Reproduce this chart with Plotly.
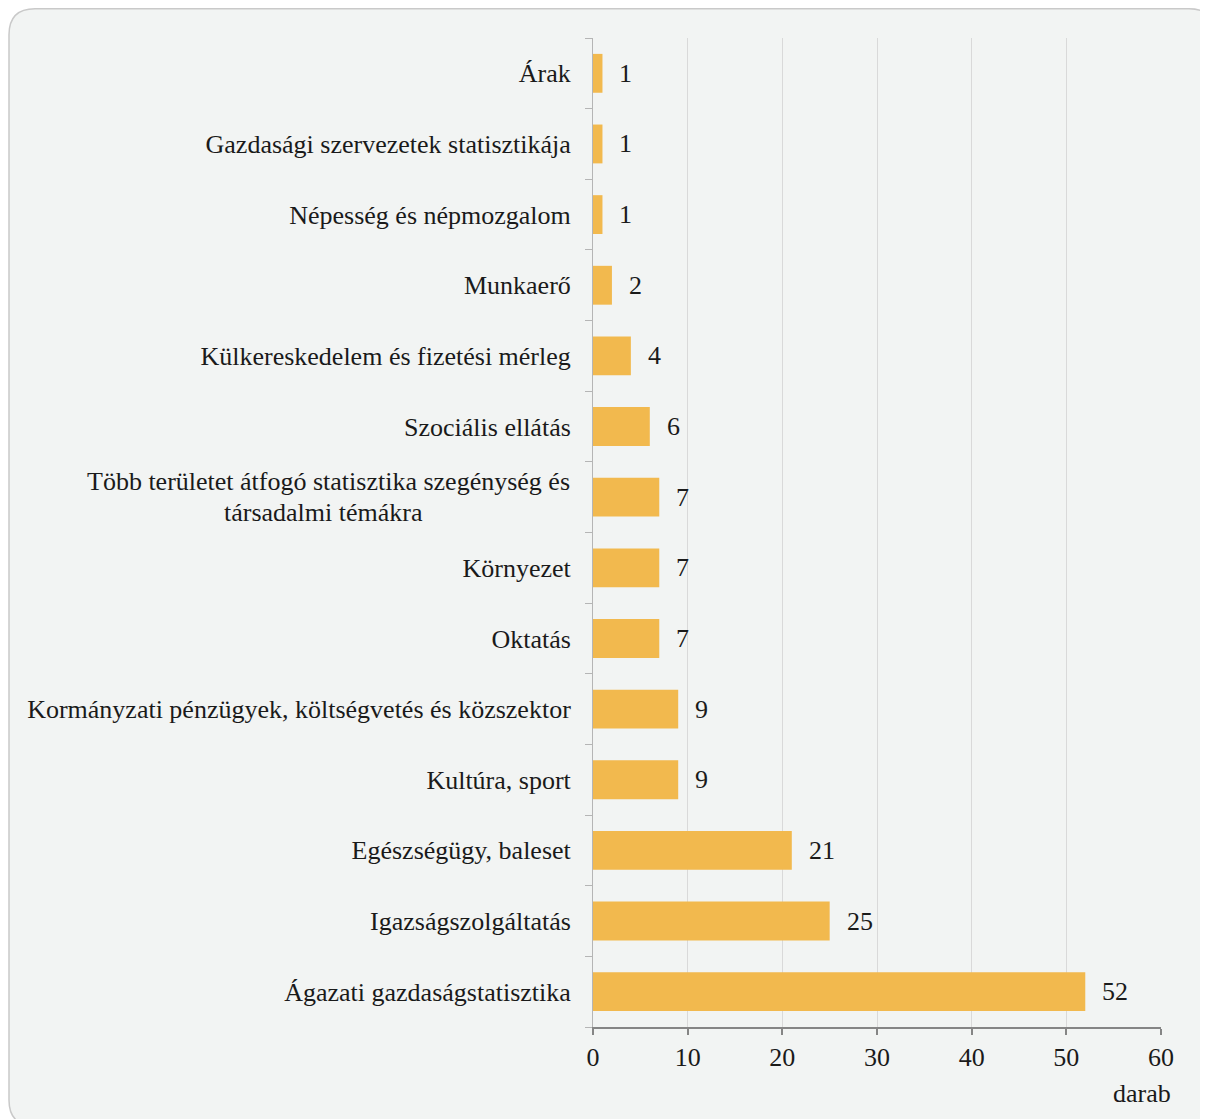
import plotly.graph_objects as go

categories = [
    "Árak",
    "Gazdasági szervezetek statisztikája",
    "Népesség és népmozgalom",
    "Munkaerő",
    "Külkereskedelem és fizetési mérleg",
    "Szociális ellátás",
    "Több területet átfogó statisztika szegénység és<br>társadalmi témákra",
    "Környezet",
    "Oktatás",
    "Kormányzati pénzügyek, költségvetés és közszektor",
    "Kultúra, sport",
    "Egészségügy, baleset",
    "Igazságszolgáltatás",
    "Ágazati gazdaságstatisztika",
]
values = [1, 1, 1, 2, 4, 6, 7, 7, 7, 9, 9, 21, 25, 52]
x_ticks = [0, 10, 20, 30, 40, 50, 60]
unit_label = "darab"

FONT = "Liberation Serif"
FS = 26
BAR = "#F2B94E"
TXT = "#1a1a1a"

W, H = 1208, 1119
L, R, T, B = 585, 55, 30, 100
pw, ph = W - L - R, H - T - B

fig = go.Figure()
fig.add_trace(go.Bar(
    x=values, y=categories, orientation="h",
    marker=dict(color=BAR, line=dict(width=0)),
    hoverinfo="x+y",
))

ann = []
for c, v in zip(categories, values):
    ann.append(dict(x=v, y=c, xref="x", yref="y", text=str(v), showarrow=False,
                    xanchor="left", yanchor="middle", xshift=15,
                    font=dict(family=FONT, size=FS, color=TXT)))

# multi-line category label: first line right-aligned to the other labels,
# following line centred under it, with tighter line spacing
ticktext = []
for c in categories:
    if "<br>" in c:
        ticktext.append("")
        lines = c.split("<br>")
        n = len(lines)
        for i, ln in enumerate(lines):
            if i == 0:
                anchor, xs = "right", -21
            else:
                anchor, xs = "center", -269.5
            ann.append(dict(x=0, y=c, xref="paper", yref="y", text=ln, showarrow=False,
                            xanchor=anchor, yanchor="middle",
                            xshift=xs, yshift=(n - 1) * 15.5 - i * 31,
                            font=dict(family=FONT, size=FS, color=TXT)))
    else:
        ticktext.append(c)

def px(xp):
    return (xp - L) / pw
def py(yp):
    return (H - B - yp) / ph

ann.append(dict(x=px(1165), y=py(1085), xref="paper", yref="paper",
                text=unit_label, showarrow=False, xanchor="right", yanchor="middle",
                font=dict(family=FONT, size=FS, color=TXT)))

x0, x1, y0, y1, r = 1, 1207, 0.75, 1118, 26
path = (f"M {px(x0 + r)} {py(y0)} L {px(x1 - r)} {py(y0)} Q {px(x1)} {py(y0)} {px(x1)} {py(y0 + r)} "
        f"L {px(x1)} {py(y1 - r)} Q {px(x1)} {py(y1)} {px(x1 - r)} {py(y1)} "
        f"L {px(x0 + r)} {py(y1)} Q {px(x0)} {py(y1)} {px(x0)} {py(y1 - r)} "
        f"L {px(x0)} {py(y0 + r)} Q {px(x0)} {py(y0)} {px(x0 + r)} {py(y0)} Z")

fig.update_layout(
    width=W, height=H,
    margin=dict(l=L, r=R, t=T, b=B, pad=0),
    paper_bgcolor="white",
    plot_bgcolor="rgba(0,0,0,0)",
    bargap=0.45,
    showlegend=False,
    font=dict(family=FONT, size=FS, color=TXT),
    shapes=[dict(type="path", path=path, xref="paper", yref="paper", layer="below",
                 fillcolor="#f2f4f3", line=dict(color="#c9c9c9", width=1.5))],
    annotations=ann,
    xaxis=dict(range=[0, 60], tickvals=x_ticks, ticktext=[str(t) for t in x_ticks],
               showgrid=True, gridcolor="#d9d9d9", gridwidth=1,
               showline=True, linecolor="#858585", linewidth=2,
               ticks="outside", ticklen=6, tickwidth=2, tickcolor="#858585",
               zeroline=False, fixedrange=True,
               tickfont=dict(family=FONT, size=FS, color=TXT)),
    yaxis=dict(autorange="reversed", tickvals=categories, ticktext=ticktext,
               tickson="boundaries", ticks="outside", ticklen=7, tickwidth=1,
               tickcolor="#b5b5b5", showline=True, linecolor="#b5b5b5", linewidth=1,
               showgrid=False, zeroline=False, fixedrange=True, ticklabelstandoff=16,
               tickfont=dict(family=FONT, size=FS, color=TXT)),
)

fig.write_html("out.html")
